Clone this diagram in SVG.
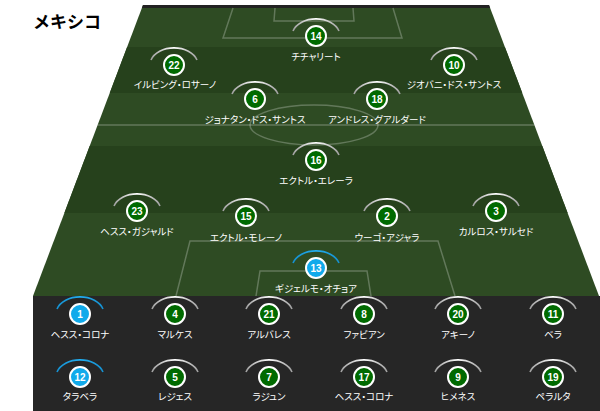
<svg xmlns="http://www.w3.org/2000/svg" width="600" height="411" viewBox="0 0 600 411">
<defs>
<linearGradient id="arcW" x1="0" y1="0" x2="1" y2="0">
<stop offset="0" stop-color="#a0a0a0"/><stop offset="0.5" stop-color="#ffffff"/><stop offset="1" stop-color="#a0a0a0"/>
</linearGradient>
<linearGradient id="arcB" x1="0" y1="0" x2="1" y2="0">
<stop offset="0" stop-color="#1590d0"/><stop offset="0.5" stop-color="#22aef0"/><stop offset="1" stop-color="#1590d0"/>
</linearGradient>
<clipPath id="field"><polygon points="143,5 489,5 599,296 33,296"/></clipPath>
</defs>
<style>
.line{fill:none;stroke:#ffffff;stroke-opacity:0.25;stroke-width:1.5}
.arc{fill:none;stroke:url(#arcW);stroke-width:1.6}
.arcg{fill:none;stroke:url(#arcB);stroke-width:1.6}
.disk{fill:#006a00;stroke:#ffffff;stroke-width:2}
.diskg{fill:#10aaeb;stroke:#ffffff;stroke-width:2}
.num{fill:#ffffff;font-family:"Liberation Sans",Arial,sans-serif;font-size:10px;font-weight:bold;text-anchor:middle}
.name{fill:#ffffff;font-family:"Noto Sans CJK JP","Noto Sans",sans-serif;font-size:9.5px;text-anchor:middle;font-feature-settings:"palt"}
</style>
<rect width="600" height="411" fill="#ffffff"/>
<text x="33" y="27.5" font-family="'Noto Sans CJK JP','Noto Sans',sans-serif" font-size="17" font-weight="bold" fill="#000000">メキシコ</text>
<g id="pitch" clip-path="url(#field)">
<rect x="0" y="0" width="600" height="300" fill="#2e4b23"/>
<rect x="0" y="47" width="600" height="46" fill="#26411c"/>
<rect x="0" y="146" width="600" height="67" fill="#26411c"/>
<rect x="0" y="0" width="600" height="8" fill="#222222"/>
<polyline class="line" points="233,8 223,38 402,38 393,8"/>
<polyline class="line" points="275,8 274,21 354,21 353,8"/>
<line class="line" x1="90" y1="125" x2="545" y2="125"/>
<ellipse class="line" cx="314" cy="125" rx="64" ry="20"/>
<polyline class="line" points="176,296 190,241 438,241 455,296"/>
<polyline class="line" points="256,296 260,271 367,271 371,296"/>
</g>
<rect id="bench" x="33" y="296" width="567" height="115" fill="#262626"/>
<g id="connectors"></g>
<g id="p14"><path class="arc" d="M293,31 A24,17 0 0 1 339,31"/><circle class="disk" cx="316" cy="36" r="10"/><text class="num" x="316" y="39.5">14</text><text class="name" x="316" y="60">チチャリート</text></g>
<g id="p22"><path class="arc" d="M151,60 A24,17 0 0 1 197,60"/><circle class="disk" cx="174" cy="65" r="10"/><text class="num" x="174" y="68.5">22</text><text class="name" x="175" y="88">イルビング・ロサーノ</text></g>
<g id="p10"><path class="arc" d="M431,60 A24,17 0 0 1 477,60"/><circle class="disk" cx="454" cy="65" r="10"/><text class="num" x="454" y="68.5">10</text><text class="name" x="454" y="88">ジオバニ・ドス・サントス</text></g>
<g id="p6"><path class="arc" d="M232,94 A24,17 0 0 1 278,94"/><circle class="disk" cx="255" cy="99" r="10"/><text class="num" x="255" y="102.5">6</text><text class="name" x="255" y="123">ジョナタン・ドス・サントス</text></g>
<g id="p18"><path class="arc" d="M354,94 A24,17 0 0 1 400,94"/><circle class="disk" cx="377" cy="99" r="10"/><text class="num" x="377" y="102.5">18</text><text class="name" x="377" y="123">アンドレス・グアルダード</text></g>
<g id="p16"><path class="arc" d="M293,155 A24,17 0 0 1 339,155"/><circle class="disk" cx="316" cy="160" r="10"/><text class="num" x="316" y="163.5">16</text><text class="name" x="316" y="184">エクトル・エレーラ</text></g>
<g id="p23"><path class="arc" d="M114,206 A24,17 0 0 1 160,206"/><circle class="disk" cx="137" cy="211" r="10"/><text class="num" x="137" y="214.5">23</text><text class="name" x="137" y="235">ヘスス・ガジャルド</text></g>
<g id="p15"><path class="arc" d="M223,211 A24,17 0 0 1 269,211"/><circle class="disk" cx="246" cy="216" r="10"/><text class="num" x="246" y="219.5">15</text><text class="name" x="246" y="241">エクトル・モレーノ</text></g>
<g id="p2"><path class="arc" d="M364,211 A24,17 0 0 1 410,211"/><circle class="disk" cx="387" cy="216" r="10"/><text class="num" x="387" y="219.5">2</text><text class="name" x="387" y="241">ウーゴ・アジャラ</text></g>
<g id="p3"><path class="arc" d="M473,206 A24,17 0 0 1 519,206"/><circle class="disk" cx="496" cy="211" r="10"/><text class="num" x="496" y="214.5">3</text><text class="name" x="496" y="235">カルロス・サルセド</text></g>
<g id="p13"><path class="arcg" d="M293,263 A24,17 0 0 1 339,263"/><circle class="diskg" cx="316" cy="268" r="10"/><text class="num" x="316" y="271.5">13</text><text class="name" x="316" y="292">ギジェルモ・オチョア</text></g>
<g id="b1"><path class="arcg" d="M57,309 A24,17 0 0 1 103,309"/><circle class="diskg" cx="80" cy="314" r="10"/><text class="num" x="80" y="317.5">1</text><text class="name" x="80" y="338">ヘスス・コロナ</text></g>
<g id="b4"><path class="arc" d="M152,309 A24,17 0 0 1 198,309"/><circle class="disk" cx="175" cy="314" r="10"/><text class="num" x="175" y="317.5">4</text><text class="name" x="175" y="338">マルケス</text></g>
<g id="b21"><path class="arc" d="M246,309 A24,17 0 0 1 292,309"/><circle class="disk" cx="269" cy="314" r="10"/><text class="num" x="269" y="317.5">21</text><text class="name" x="269" y="338">アルバレス</text></g>
<g id="b8"><path class="arc" d="M341,309 A24,17 0 0 1 387,309"/><circle class="disk" cx="364" cy="314" r="10"/><text class="num" x="364" y="317.5">8</text><text class="name" x="364" y="338">ファビアン</text></g>
<g id="b20"><path class="arc" d="M435,309 A24,17 0 0 1 481,309"/><circle class="disk" cx="458" cy="314" r="10"/><text class="num" x="458" y="317.5">20</text><text class="name" x="458" y="338">アキーノ</text></g>
<g id="b11"><path class="arc" d="M530,309 A24,17 0 0 1 576,309"/><circle class="disk" cx="553" cy="314" r="10"/><text class="num" x="553" y="317.5">11</text><text class="name" x="553" y="338">ベラ</text></g>
<g id="b12"><path class="arcg" d="M57,372 A24,17 0 0 1 103,372"/><circle class="diskg" cx="80" cy="377" r="10"/><text class="num" x="80" y="380.5">12</text><text class="name" x="80" y="400">タラベラ</text></g>
<g id="b5"><path class="arc" d="M152,372 A24,17 0 0 1 198,372"/><circle class="disk" cx="175" cy="377" r="10"/><text class="num" x="175" y="380.5">5</text><text class="name" x="175" y="400">レジェス</text></g>
<g id="b7"><path class="arc" d="M246,372 A24,17 0 0 1 292,372"/><circle class="disk" cx="269" cy="377" r="10"/><text class="num" x="269" y="380.5">7</text><text class="name" x="269" y="400">ラジュン</text></g>
<g id="b17"><path class="arc" d="M341,372 A24,17 0 0 1 387,372"/><circle class="disk" cx="364" cy="377" r="10"/><text class="num" x="364" y="380.5">17</text><text class="name" x="364" y="400">ヘスス・コロナ</text></g>
<g id="b9"><path class="arc" d="M435,372 A24,17 0 0 1 481,372"/><circle class="disk" cx="458" cy="377" r="10"/><text class="num" x="458" y="380.5">9</text><text class="name" x="458" y="400">ヒメネス</text></g>
<g id="b19"><path class="arc" d="M530,372 A24,17 0 0 1 576,372"/><circle class="disk" cx="553" cy="377" r="10"/><text class="num" x="553" y="380.5">19</text><text class="name" x="553" y="400">ペラルタ</text></g>
</svg>
